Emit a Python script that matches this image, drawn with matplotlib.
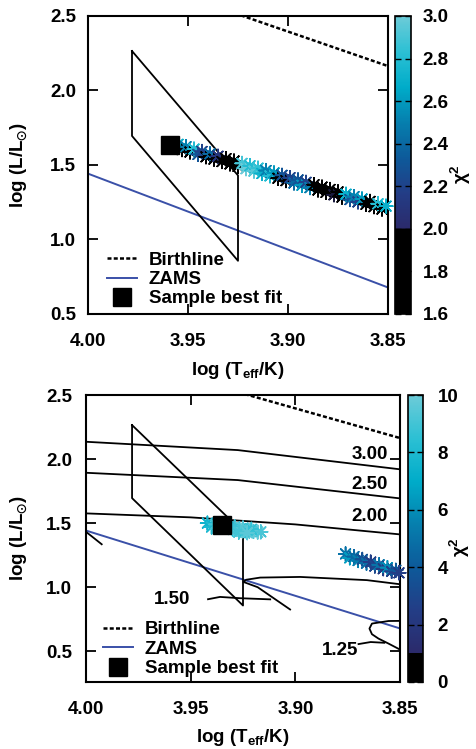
import matplotlib
matplotlib.use("Agg")
from matplotlib import pyplot as plt
from matplotlib.colors import LinearSegmentedColormap, Normalize
from matplotlib.cm import ScalarMappable
from matplotlib.lines import Line2D
from matplotlib.ticker import FormatStrFormatter

plt.rcParams["font.family"] = ["Liberation Sans", "DejaVu Sans"]
plt.rcParams["font.weight"] = "bold"
plt.rcParams["axes.labelweight"] = "bold"
plt.rcParams["font.size"] = 13.5
plt.rcParams["mathtext.fontset"] = "dejavusans"
plt.rcParams["mathtext.default"] = "regular"

# curves shared by both panels
birth_T = [3.95, 3.85]
birth_L = [2.627, 2.164]
zams_T = [4.00, 3.85]
zams_L = [1.442, 0.678]
box_T = [3.978, 3.978, 3.925, 3.925, 3.978]
box_L = [2.265, 1.695, 0.857, 1.43, 2.265]

# top panel: sample models
top_T = [3.955, 3.953, 3.951, 3.949, 3.947, 3.945, 3.943, 3.941, 3.939, 3.937,
         3.935, 3.933, 3.931, 3.929, 3.927, 3.925, 3.923, 3.921, 3.919, 3.917,
         3.915, 3.913, 3.911, 3.909, 3.907, 3.905, 3.903, 3.901, 3.899, 3.897,
         3.895, 3.893, 3.891, 3.889, 3.887, 3.885, 3.883, 3.881, 3.879, 3.877,
         3.875, 3.873, 3.871, 3.869, 3.867, 3.865, 3.863, 3.861, 3.859, 3.857,
         3.855, 3.853, 3.851]
top_L = [1.639, 1.603, 1.623, 1.587, 1.607, 1.571, 1.591, 1.555, 1.575, 1.539,
         1.559, 1.523, 1.543, 1.507, 1.527, 1.491, 1.511, 1.475, 1.495, 1.459,
         1.479, 1.443, 1.463, 1.427, 1.447, 1.411, 1.431, 1.395, 1.415, 1.379,
         1.400, 1.364, 1.384, 1.348, 1.368, 1.332, 1.352, 1.316, 1.336, 1.300,
         1.320, 1.284, 1.304, 1.268, 1.288, 1.252, 1.272, 1.236, 1.256, 1.220,
         1.240, 1.204, 1.224]
top_chi2 = [2.7, 1.9, 2.5, 1.8, 2.8, 2.3,
            2.2, 1.9, 2.4, 1.8, 2.1,
            1.8, 1.9, 1.7, 1.9, 1.8,
            2.9, 3.0, 2.8, 2.95, 2.85,
            2.7, 2.5, 2.8, 2.6, 1.9, 2.3, 1.8, 2.2, 2.4,
            2.3, 2.6, 2.2, 2.5,
            1.8, 1.9, 1.7, 1.9, 1.8, 2.0, 1.9, 1.8,
            2.7, 2.3, 2.5, 2.2, 2.6,
            1.9, 1.8, 1.9,
            2.8, 1.9, 2.7]
top_best = (3.959, 1.631)

# bottom panel: sample models
bot_T = [3.942, 3.940, 3.938, 3.936, 3.934, 3.932, 3.930, 3.928, 3.926, 3.924,
         3.922, 3.920, 3.918, 3.9165, 3.929, 3.925, 3.921, 3.927, 3.923,
         3.876, 3.874, 3.872, 3.870, 3.868, 3.866, 3.864, 3.862, 3.860, 3.858,
         3.856, 3.854, 3.852, 3.8505]
bot_L = [1.500, 1.470, 1.490, 1.480, 1.470, 1.465, 1.455, 1.450, 1.445, 1.440,
         1.438, 1.435, 1.430, 1.432, 1.470, 1.462, 1.452, 1.430, 1.425,
         1.260, 1.229, 1.239, 1.208, 1.217, 1.187, 1.196, 1.165, 1.175, 1.144,
         1.153, 1.123, 1.132, 1.112]
bot_chi2 = [7.5, 8.0, 9.0, 8.5, 9.5, 9.0, 8.0, 9.5, 10.0, 8.5,
            9.5, 9.0, 9.8, 9.2, 8.8, 9.4, 8.6, 9.0, 9.6,
            5.0, 6.5, 4.5, 5.5, 3.5, 4.8, 2.5, 3.0, 5.0, 2.2,
            6.0, 2.8, 4.0, 2.5]
bot_best = (3.935, 1.484)

# evolutionary tracks (bottom panel)
trk300_T = [4.00, 3.9275, 3.85]
trk300_L = [2.135, 2.070, 1.920]
trk250_T = [4.00, 3.9275, 3.85]
trk250_L = [1.893, 1.836, 1.693]
trk200_T = [4.00, 3.95, 3.90, 3.85]
trk200_L = [1.576, 1.545, 1.490, 1.412]
trk200b_T = [4.003, 3.9975, 3.9925]
trk200b_L = [1.47, 1.40, 1.335]
trk150_T = [3.85, 3.8658, 3.8977, 3.9168, 3.9235, 3.9248, 3.918, 3.9025]
trk150_L = [1.023, 1.055, 1.080, 1.075, 1.058, 1.041, 1.000, 0.826]
trk150b_T = [3.9417, 3.936, 3.9264, 3.912]
trk150b_L = [0.906, 0.924, 0.914, 0.905]
trk125_T = [3.85, 3.8555, 3.8634, 3.8646, 3.8634, 3.8603, 3.8555, 3.85]
trk125_L = [0.737, 0.736, 0.716, 0.677, 0.633, 0.599, 0.560, 0.513]
trk125b_T = [3.8698, 3.864, 3.8575]
trk125b_L = [0.556, 0.572, 0.566]
trk_labels = ["3.00", "2.50", "2.00", "1.50", "1.25"]
trk_label_T = [3.8557, 3.8557, 3.8557, 3.9589, 3.8786]
trk_label_L = [2.039, 1.805, 1.549, 0.906, 0.508]

legend_labels = ["Birthline", "ZAMS", "Sample best fit"]
zams_color = "#3a50a8"
gradient = ["#2b2a6b", "#233d86", "#0d5a9a", "#067fae", "#00acc9", "#2cc0d4", "#6ccbd8"]
marker = (8, 2, 0)


def chi_cmap(vmin, vmax, black_to):
    f = (black_to - vmin) / (vmax - vmin)
    nodes = [(0.0, "black"), (f, "black")]
    for k, c in enumerate(gradient):
        nodes.append((f + 0.001 + (0.999 - f) * k / (len(gradient) - 1), c))
    return LinearSegmentedColormap.from_list("chi", nodes)


def style_axes(ax, ypad):
    ax.set_xlim(4.00, 3.85)
    ax.set_xticks([4.00, 3.95, 3.90, 3.85])
    ax.set_yticks([0.5, 1.0, 1.5, 2.0, 2.5])
    ax.xaxis.set_major_formatter(FormatStrFormatter("%.2f"))
    ax.yaxis.set_major_formatter(FormatStrFormatter("%.1f"))
    ax.tick_params(direction="in", top=True, right=True, length=7, width=1.3)
    ax.tick_params(axis="x", pad=13.5)
    ax.tick_params(axis="y", pad=ypad)
    for s in ax.spines.values():
        s.set_linewidth(1.5)
    ax.set_xlabel("log (T$_{eff}$/K)")
    ax.set_ylabel(r"log (L/L$_{\odot}$)")


def legend(ax, x0, y0):
    handles = [Line2D([], [], color="k", ls=(0, (1.6, 0.9)), lw=1.8),
               Line2D([], [], color=zams_color, lw=1.4),
               Line2D([], [], color="k", marker="s", ls="none", ms=13.5)]
    ax.legend(handles, legend_labels, loc="lower left", bbox_to_anchor=(x0, y0),
              frameon=False, handlelength=1.6, handletextpad=0.64,
              labelspacing=0.12, borderpad=0, borderaxespad=0)


def colorbar(fig, cax, cmap, norm, ticks, fmt, pad, lab_x):
    cb = fig.colorbar(ScalarMappable(norm=norm, cmap=cmap), cax=cax)
    cb.set_ticks(ticks)
    cb.ax.yaxis.set_major_formatter(FormatStrFormatter(fmt))
    cb.ax.tick_params(direction="in", left=True, right=True, length=4, width=1,
                      pad=pad)
    cb.ax.minorticks_off()
    cb.outline.set_linewidth(1.2)
    cb.set_label("χ$^{2}$", rotation=90, fontsize=13.5)
    cb.ax.yaxis.set_label_coords(lab_x, 0.47)


fig = plt.figure(figsize=(4.77, 7.49), dpi=100)
ax1 = fig.add_axes([88 / 477, 1 - 314 / 749, 300 / 477, 298 / 749])
cax1 = fig.add_axes([395 / 477, 1 - 314 / 749, 16 / 477, 298 / 749])
ax2 = fig.add_axes([86 / 477, 1 - 682 / 749, 314 / 477, 287 / 749])
cax2 = fig.add_axes([408 / 477, 1 - 682 / 749, 15.5 / 477, 287 / 749])

# ---- top panel
cmap1 = chi_cmap(1.6, 3.0, 2.0)
norm1 = Normalize(1.6, 3.0)
ax1.plot(birth_T, birth_L, color="k", ls=(0, (1.6, 0.9)), lw=1.8)
ax1.plot(zams_T, zams_L, color=zams_color, lw=1.4)
ax1.plot(box_T, box_L, color="k", lw=1.3)
ax1.scatter(top_T, top_L, c=top_chi2, cmap=cmap1, norm=norm1, marker=marker,
            s=95, linewidths=1.2, zorder=3, clip_on=False)
ax1.plot(*top_best, marker="s", color="k", ms=13.5, zorder=4)
ax1.set_ylim(0.5, 2.5)
style_axes(ax1, 8.5)
ax1.yaxis.set_label_coords(-0.197, 0.5)
ax1.xaxis.set_label_coords(0.5, -0.154)
legend(ax1, 0.063, 0.022)
colorbar(fig, cax1, cmap1, norm1, [1.6, 1.8, 2.0, 2.2, 2.4, 2.6, 2.8, 3.0],
         "%.1f", 8.5, 3.35)

# ---- bottom panel
cmap2 = chi_cmap(0, 10, 1.0)
norm2 = Normalize(0, 10)
ax2.plot(birth_T, birth_L, color="k", ls=(0, (1.6, 0.9)), lw=1.8)
ax2.plot(zams_T, zams_L, color=zams_color, lw=1.4)
ax2.plot(box_T, box_L, color="k", lw=1.3)
for tT, tL in [(trk300_T, trk300_L), (trk250_T, trk250_L), (trk200_T, trk200_L),
               (trk200b_T, trk200b_L), (trk150_T, trk150_L),
               (trk150b_T, trk150b_L), (trk125_T, trk125_L),
               (trk125b_T, trk125b_L)]:
    ax2.plot(tT, tL, color="k", lw=1.3)
for lab, lT, lL in zip(trk_labels, trk_label_T, trk_label_L):
    ha = "right" if lab in ("3.00", "2.50", "2.00") else "center"
    ax2.text(lT, lL, lab, ha=ha, va="center")
ax2.scatter(bot_T, bot_L, c=bot_chi2, cmap=cmap2, norm=norm2, marker=marker,
            s=95, linewidths=1.2, zorder=3, clip_on=False)
ax2.plot(*bot_best, marker="s", color="k", ms=13.5, zorder=4)
ax2.set_ylim(0.26, 2.5)
style_axes(ax2, 10)
ax2.yaxis.set_label_coords(-0.18, 0.5)
ax2.xaxis.set_label_coords(0.5, -0.157)
legend(ax2, 0.054, 0.017)
colorbar(fig, cax2, cmap2, norm2, [0, 2, 4, 6, 8, 10], "%d", 10, 2.6)

fig.savefig("out.png", dpi=100)
plt.close(fig)
